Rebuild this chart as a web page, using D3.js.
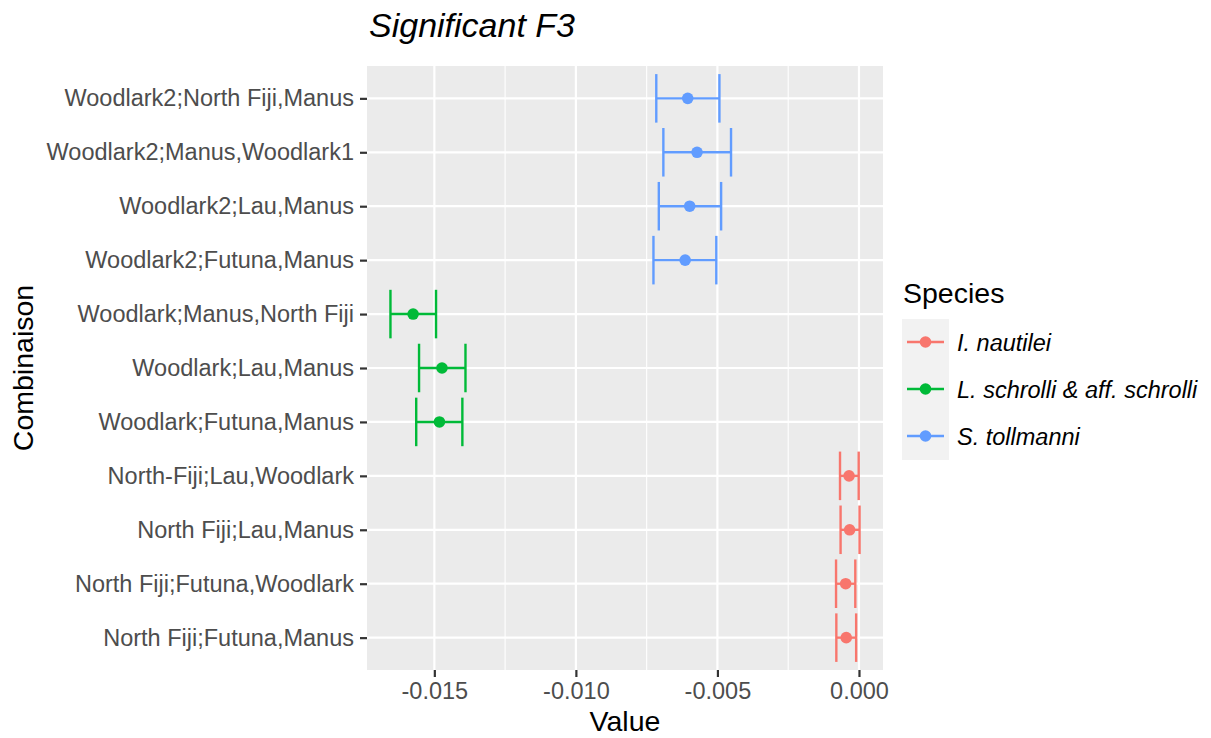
<!DOCTYPE html>
<html><head><meta charset="utf-8">
<script src="https://cdn.jsdelivr.net/npm/d3@7"></script>
<style>body{margin:0;background:#fff;} text{font-family:"Liberation Sans",Arial,sans-serif;}</style>
</head><body>
<svg id="c" width="1211" height="738"></svg>
<script>
const categories = ["North Fiji;Futuna,Manus","North Fiji;Futuna,Woodlark","North Fiji;Lau,Manus","North-Fiji;Lau,Woodlark","Woodlark;Futuna,Manus","Woodlark;Lau,Manus","Woodlark;Manus,North Fiji","Woodlark2;Futuna,Manus","Woodlark2;Lau,Manus","Woodlark2;Manus,Woodlark1","Woodlark2;North Fiji,Manus"];
const species = ["I. nautilei","I. nautilei","I. nautilei","I. nautilei","L. schrolli & aff. schrolli","L. schrolli & aff. schrolli","L. schrolli & aff. schrolli","S. tollmanni","S. tollmanni","S. tollmanni","S. tollmanni"];
const values = [-0.00045,-0.00047,-0.00033,-0.00035,-0.01482,-0.01473,-0.01575,-0.00614,-0.00598,-0.00572,-0.00605];
const lower  = [-0.00080,-0.00081,-0.00065,-0.00067,-0.01564,-0.01554,-0.01655,-0.00726,-0.00707,-0.00691,-0.00716];
const upper  = [-0.00010,-0.00013,0.00002,-0.00001,-0.01401,-0.01390,-0.01494,-0.00504,-0.00487,-0.00452,-0.00493];
const xTicks = [-0.015,-0.010,-0.005,0.000];
const xTickLabels = ["-0.015","-0.010","-0.005","0.000"];
const legendNames = ["I. nautilei","L. schrolli & aff. schrolli","S. tollmanni"];
const legendColors = ["#F8766D","#00BA38","#619CFF"];

const svg = d3.select("#c");
const P = {l:367, r:883, t:66, b:670};
const lo = d3.min(lower), hi = d3.max(upper), pad = (hi-lo)*0.05;
const x = d3.scaleLinear().domain([lo-pad, hi+pad]).range([P.l, P.r]);
const y = d3.scalePoint().domain(categories.slice().reverse()).range([P.t, P.b]).padding(0.6);
const color = d3.scaleOrdinal().domain(legendNames).range(legendColors);
const step = y.step();
const FONT = "'Liberation Sans',Arial,sans-serif";

svg.append("rect").attr("x",P.l).attr("y",P.t).attr("width",P.r-P.l).attr("height",P.b-P.t).attr("fill","#EBEBEB");
// minor grid
const minor = [];
for (let i=0;i<xTicks.length-1;i++) minor.push((xTicks[i]+xTicks[i+1])/2);
minor.push(xTicks[0]-0.0025);
svg.append("g").selectAll("line").data(minor.filter(v=>x(v)>P.l&&x(v)<P.r)).join("line")
  .attr("x1",d=>x(d)).attr("x2",d=>x(d)).attr("y1",P.t).attr("y2",P.b).attr("stroke","#fff").attr("stroke-width",1.1);
svg.append("g").selectAll("line").data(xTicks).join("line")
  .attr("x1",d=>x(d)).attr("x2",d=>x(d)).attr("y1",P.t).attr("y2",P.b).attr("stroke","#fff").attr("stroke-width",2.2);
svg.append("g").selectAll("line").data(categories).join("line")
  .attr("x1",P.l).attr("x2",P.r).attr("y1",d=>y(d)).attr("y2",d=>y(d)).attr("stroke","#fff").attr("stroke-width",2.2);

// axes
const xa = svg.append("g").attr("transform",`translate(0,${P.b})`)
  .call(d3.axisBottom(x).tickValues(xTicks).tickFormat((d,i)=>xTickLabels[i]).tickSize(7).tickPadding(5));
const ya = svg.append("g").attr("transform",`translate(${P.l},0)`)
  .call(d3.axisLeft(y).tickSize(7).tickPadding(6));
[xa,ya].forEach(a=>{
  a.select(".domain").remove();
  a.selectAll(".tick line").attr("stroke","#333").attr("stroke-width",2.2);
  a.selectAll(".tick text").attr("fill","#4D4D4D").style("font-size","23.5px").style("font-family",FONT);
});

// marks
const rows = categories.map((c,i)=>({c, s:species[i], v:values[i], lo:lower[i], hi:upper[i]}));
const g = svg.append("g");
const cap = step*0.9/2;
rows.forEach(d=>{
  const col = color(d.s), yy = y(d.c);
  g.append("line").attr("x1",x(d.lo)).attr("x2",x(d.hi)).attr("y1",yy).attr("y2",yy).attr("stroke",col).attr("stroke-width",2.4);
  g.append("line").attr("x1",x(d.lo)).attr("x2",x(d.lo)).attr("y1",yy-cap).attr("y2",yy+cap).attr("stroke",col).attr("stroke-width",2.4);
  g.append("line").attr("x1",x(d.hi)).attr("x2",x(d.hi)).attr("y1",yy-cap).attr("y2",yy+cap).attr("stroke",col).attr("stroke-width",2.4);
  g.append("circle").attr("cx",x(d.v)).attr("cy",yy).attr("r",5.8).attr("fill",col);
});

// titles
svg.append("text").attr("x",369).attr("y",37).text("Significant F3").style("font-size","34px").style("font-style","italic").attr("fill","#000");
svg.append("text").attr("x",(P.l+P.r)/2).attr("y",731).attr("text-anchor","middle").text("Value").style("font-size","28.5px").attr("fill","#000");
svg.append("text").attr("transform",`translate(33,${(P.t+P.b)/2}) rotate(-90)`).attr("text-anchor","middle").text("Combinaison").style("font-size","28.5px").attr("fill","#000");

// legend
const L = svg.append("g");
L.append("text").attr("x",903).attr("y",303).text("Species").style("font-size","28.5px").attr("fill","#000");
L.append("rect").attr("x",902).attr("y",319).attr("width",47).attr("height",141).attr("fill","#F2F2F2");
legendNames.forEach((n,i)=>{
  const yy = 342 + i*47;
  L.append("line").attr("x1",907).attr("x2",944).attr("y1",yy).attr("y2",yy).attr("stroke",legendColors[i]).attr("stroke-width",2.4);
  L.append("circle").attr("cx",925.5).attr("cy",yy).attr("r",5.8).attr("fill",legendColors[i]);
  L.append("text").attr("x",957).attr("y",yy+8.5).text(n).style("font-size","23.5px").style("font-style","italic").attr("fill","#000");
});
</script>
</body></html>
